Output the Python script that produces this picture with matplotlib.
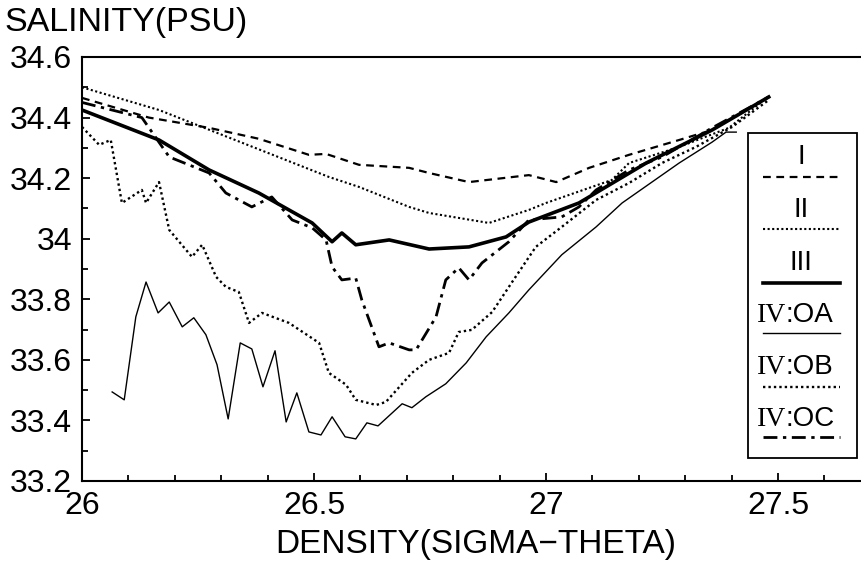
import matplotlib
matplotlib.use("Agg")
import matplotlib.pyplot as plt
from matplotlib.lines import Line2D
from matplotlib.patches import Rectangle
from matplotlib.ticker import MultipleLocator, FuncFormatter

plt.rcParams['font.family'] = ['Liberation Sans', 'DejaVu Sans']

# --- data (sigma-theta, salinity) ---
x_I = [26.00, 26.144, 26.274, 26.381, 26.489, 26.526, 26.597, 26.705, 26.748,
       26.834, 26.963, 27.022, 27.093, 27.179, 27.287, 27.358, 27.48]
s_I = [34.465, 34.40, 34.366, 34.33, 34.277, 34.28, 34.244, 34.234, 34.217,
       34.187, 34.21, 34.187, 34.234, 34.277, 34.326, 34.359, 34.468]

x_II = [26.00, 26.166, 26.532, 26.597, 26.705, 26.748, 26.877, 26.963, 27.00,
        27.142, 27.179, 27.287, 27.394, 27.48]
s_II = [34.50, 34.425, 34.204, 34.171, 34.105, 34.085, 34.052, 34.095, 34.118,
        34.194, 34.25, 34.303, 34.366, 34.47]

x_III = [26.00, 26.166, 26.274, 26.381, 26.496, 26.539, 26.56, 26.59, 26.662,
         26.748, 26.834, 26.914, 26.963, 27.071, 27.216, 27.358, 27.48]
s_III = [34.425, 34.326, 34.227, 34.151, 34.052, 33.99, 34.019, 33.98, 33.996,
         33.966, 33.973, 34.006, 34.055, 34.118, 34.25, 34.359, 34.468]

x_OA = [26.065, 26.091, 26.116, 26.138, 26.164, 26.188, 26.216, 26.241, 26.267,
        26.291, 26.315, 26.341, 26.366, 26.39, 26.416, 26.44, 26.463, 26.489,
        26.515, 26.539, 26.567, 26.59, 26.614, 26.638, 26.69, 26.711, 26.741,
        26.784, 26.828, 26.871, 26.92, 26.963, 27.034, 27.108, 27.164, 27.287,
        27.358, 27.388, 27.41]
s_OA = [33.494, 33.468, 33.742, 33.857, 33.755, 33.791, 33.709, 33.739, 33.683,
        33.584, 33.405, 33.656, 33.636, 33.511, 33.63, 33.395, 33.491, 33.362,
        33.352, 33.412, 33.346, 33.339, 33.392, 33.382, 33.455, 33.442, 33.478,
        33.521, 33.59, 33.676, 33.755, 33.831, 33.947, 34.039, 34.118, 34.25,
        34.319, 34.352, 34.352]

x_OB = [26.00, 26.037, 26.062, 26.086, 26.129, 26.138, 26.166, 26.188, 26.237,
        26.259, 26.289, 26.31, 26.338, 26.36, 26.388, 26.446, 26.511, 26.532,
        26.569, 26.59, 26.634, 26.655, 26.711, 26.748, 26.791, 26.812, 26.84,
        26.884, 26.927, 26.978, 27.034, 27.108, 27.179, 27.25, 27.323, 27.401,
        27.48]
s_OB = [34.369, 34.31, 34.326, 34.118, 34.161, 34.118, 34.187, 34.029, 33.94,
        33.98, 33.874, 33.841, 33.824, 33.722, 33.755, 33.722, 33.656, 33.557,
        33.518, 33.468, 33.451, 33.461, 33.557, 33.60, 33.623, 33.692, 33.699,
        33.758, 33.857, 33.973, 34.039, 34.128, 34.184, 34.25, 34.303, 34.369,
        34.458]

x_OC = [26.00, 26.129, 26.188, 26.274, 26.31, 26.366, 26.409, 26.453, 26.496,
        26.526, 26.539, 26.56, 26.59, 26.603, 26.64, 26.662, 26.705, 26.72,
        26.763, 26.784, 26.812, 26.834, 26.862, 26.92, 26.963, 27.034, 27.071,
        27.108, 27.179, 27.25, 27.358, 27.48]
s_OC = [34.45, 34.40, 34.27, 34.217, 34.151, 34.105, 34.138, 34.062, 34.036,
        33.996, 33.907, 33.864, 33.87, 33.798, 33.643, 33.656, 33.633, 33.633,
        33.742, 33.864, 33.904, 33.864, 33.92, 33.99, 34.062, 34.072, 34.105,
        34.161, 34.227, 34.27, 34.366, 34.468]

styles = {
    "I":   dict(color="black", lw=1.6, dashes=(3.5, 2.5)),
    "II":  dict(color="black", lw=1.5, dashes=(1, 1.2)),
    "III": dict(color="black", lw=2.6, ls="-"),
    "OA":  dict(color="black", lw=1.0, ls="-"),
    "OB":  dict(color="black", lw=1.7, dashes=(1, 1.3)),
    "OC":  dict(color="black", lw=2.0, dashes=(5, 2, 1.2, 2)),
}

fig = plt.figure(figsize=(8.62, 5.63), dpi=100)
ax = fig.add_axes([82 / 862, 82 / 563, (27.7 - 26) * 464 / 862, 424 / 563])

ax.plot(x_I, s_I, **styles["I"])
ax.plot(x_II, s_II, **styles["II"])
ax.plot(x_III, s_III, **styles["III"])
ax.plot(x_OA, s_OA, **styles["OA"])
ax.plot(x_OB, s_OB, **styles["OB"])
ax.plot(x_OC, s_OC, **styles["OC"])

ax.set_xlim(26, 27.7)
ax.set_ylim(33.2, 34.6)
ax.xaxis.set_major_locator(MultipleLocator(0.5))
ax.xaxis.set_minor_locator(MultipleLocator(0.1))
ax.yaxis.set_major_locator(MultipleLocator(0.2))
ax.yaxis.set_minor_locator(MultipleLocator(0.1))
ax.xaxis.set_major_formatter(FuncFormatter(lambda v, p: f"{v:g}"))
ax.yaxis.set_major_formatter(FuncFormatter(lambda v, p: f"{v:g}"))
ax.tick_params(which="both", direction="in", top=False, right=False,
               labelsize=23, width=1.3)
ax.tick_params(which="major", length=6, pad=7)
ax.tick_params(which="minor", length=4)
for sp in ax.spines.values():
    sp.set_linewidth(1.5)

fig.text(4, 563 - 22, "SALINITY(PSU)", transform=None, fontsize=24.5,
         ha="left", va="center")
fig.text(476, 563 - 545, "DENSITY(SIGMA\u2212THETA)", transform=None,
         fontsize=24, ha="center", va="center")

# legend box drawn by hand: label above its line sample
W, H = 862, 563
fig.add_artist(Rectangle((748 / W, (H - 458) / H), 109 / W, 325 / H,
                         transform=fig.transFigure, fill=False,
                         lw=1.3, ec="black"))
entries = [("I", "I"), ("II", "II"), ("III", "III"),
           ("IV", "OA"), ("IV", "OB"), ("IV", "OC")]
text_y = [157, 210, 263, 315, 367, 419]
line_y = [177, 229, 283, 333, 387, 437]
for (pre, key), ty, ly in zip(entries, text_y, line_y):
    if pre == "IV":
        fig.text(786 / W, (H - ty) / H, "IV", family="Liberation Serif",
                 fontsize=20, ha="right", va="center")
        fig.text(786 / W, (H - ty) / H, ":" + key, fontsize=20,
                 ha="left", va="center")
    else:
        fig.text(801 / W, (H - ty) / H, key, fontsize=20,
                 ha="center", va="center")
    fig.add_artist(Line2D([763 / W, 840 / W], [(H - ly) / H] * 2,
                          transform=fig.transFigure, **styles[key]))

fig.savefig("out.png", dpi=100)
